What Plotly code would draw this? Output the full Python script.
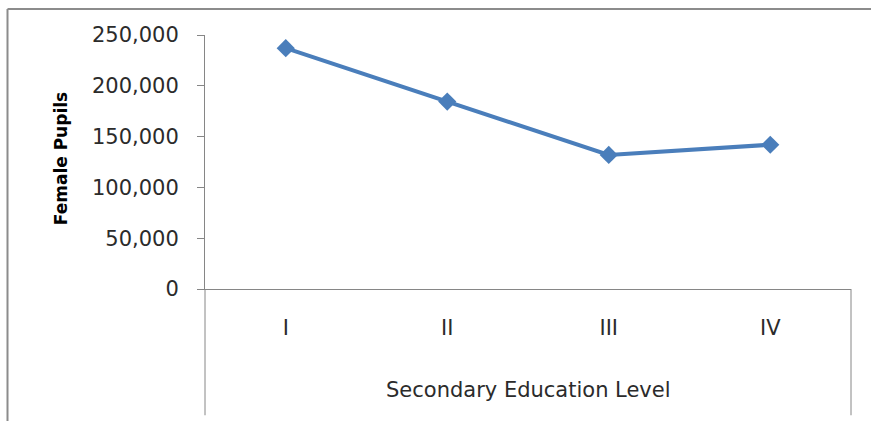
import plotly.graph_objects as go

# Female pupils by secondary education level
levels = ["I", "II", "III", "IV"]
female_pupils = [237000, 184500, 132000, 142000]

y_ticks = [0, 50000, 100000, 150000, 200000, 250000]

W, H = 871, 421
L, R, T, B = 205, 20, 35, 131.5
plot_w = W - L - R
plot_h = H - T - B


def px_x(px):
    return (px - L) / plot_w


def px_y(py):
    return (H - B - py) / plot_h


axis_grey = "#868686"
text_col = "#2b2b2b"
font_family = "DejaVu Sans"

fig = go.Figure()
fig.add_trace(go.Scatter(
    x=levels,
    y=female_pupils,
    mode="lines+markers",
    line=dict(color="#4A7EBB", width=4),
    marker=dict(symbol="diamond", size=14, color="#4A7EBB"),
    showlegend=False,
    cliponaxis=False,
))

fig.update_layout(
    width=W, height=H,
    margin=dict(l=L, r=R, t=T, b=B, pad=0),
    paper_bgcolor="white",
    plot_bgcolor="white",
    font=dict(family=font_family, size=21, color=text_col),
    xaxis=dict(
        type="category",
        range=[-0.5, 3.5],
        showgrid=False,
        zeroline=False,
        showline=True,
        linecolor=axis_grey,
        linewidth=1,
        ticks="",
        ticklabelstandoff=20,
        tickfont=dict(family=font_family, size=21, color=text_col),
    ),
    yaxis=dict(
        range=[0, 250000],
        tickvals=y_ticks,
        tickformat=",d",
        showgrid=False,
        zeroline=False,
        showline=True,
        linecolor=axis_grey,
        linewidth=1,
        ticks="outside",
        ticklen=7,
        tickcolor=axis_grey,
        ticklabelstandoff=14,
        tickfont=dict(family=font_family, size=21, color=text_col),
    ),
)

# Category-axis group dividers running down to the outer label
bottom_px = 416
for xp in (L, L + plot_w):
    fig.add_shape(
        type="line", xref="paper", yref="paper",
        x0=px_x(xp), x1=px_x(xp), y0=0, y1=px_y(bottom_px),
        line=dict(color=axis_grey, width=1),
    )

# Chart frame (top and left edges; the rest falls outside the page)
frame = dict(color="#8c8c8c", width=2)
fig.add_shape(type="line", xref="paper", yref="paper",
              x0=px_x(7.5), x1=px_x(900), y0=px_y(9), y1=px_y(9), line=frame)
fig.add_shape(type="line", xref="paper", yref="paper",
              x0=px_x(7.5), x1=px_x(7.5), y0=px_y(9), y1=px_y(450), line=frame)

# Axis titles
fig.add_annotation(
    text="<b>Female Pupils</b>",
    xref="paper", yref="paper",
    x=px_x(60.5), y=px_y(159),
    textangle=-90, showarrow=False,
    xanchor="center", yanchor="middle",
    font=dict(family=font_family, size=17, color="#000000"),
)
fig.add_annotation(
    text="Secondary Education Level",
    xref="paper", yref="paper",
    x=px_x(528), y=px_y(391),
    showarrow=False,
    xanchor="center", yanchor="middle",
    font=dict(family=font_family, size=21, color=text_col),
)

fig.write_html("out.html")
